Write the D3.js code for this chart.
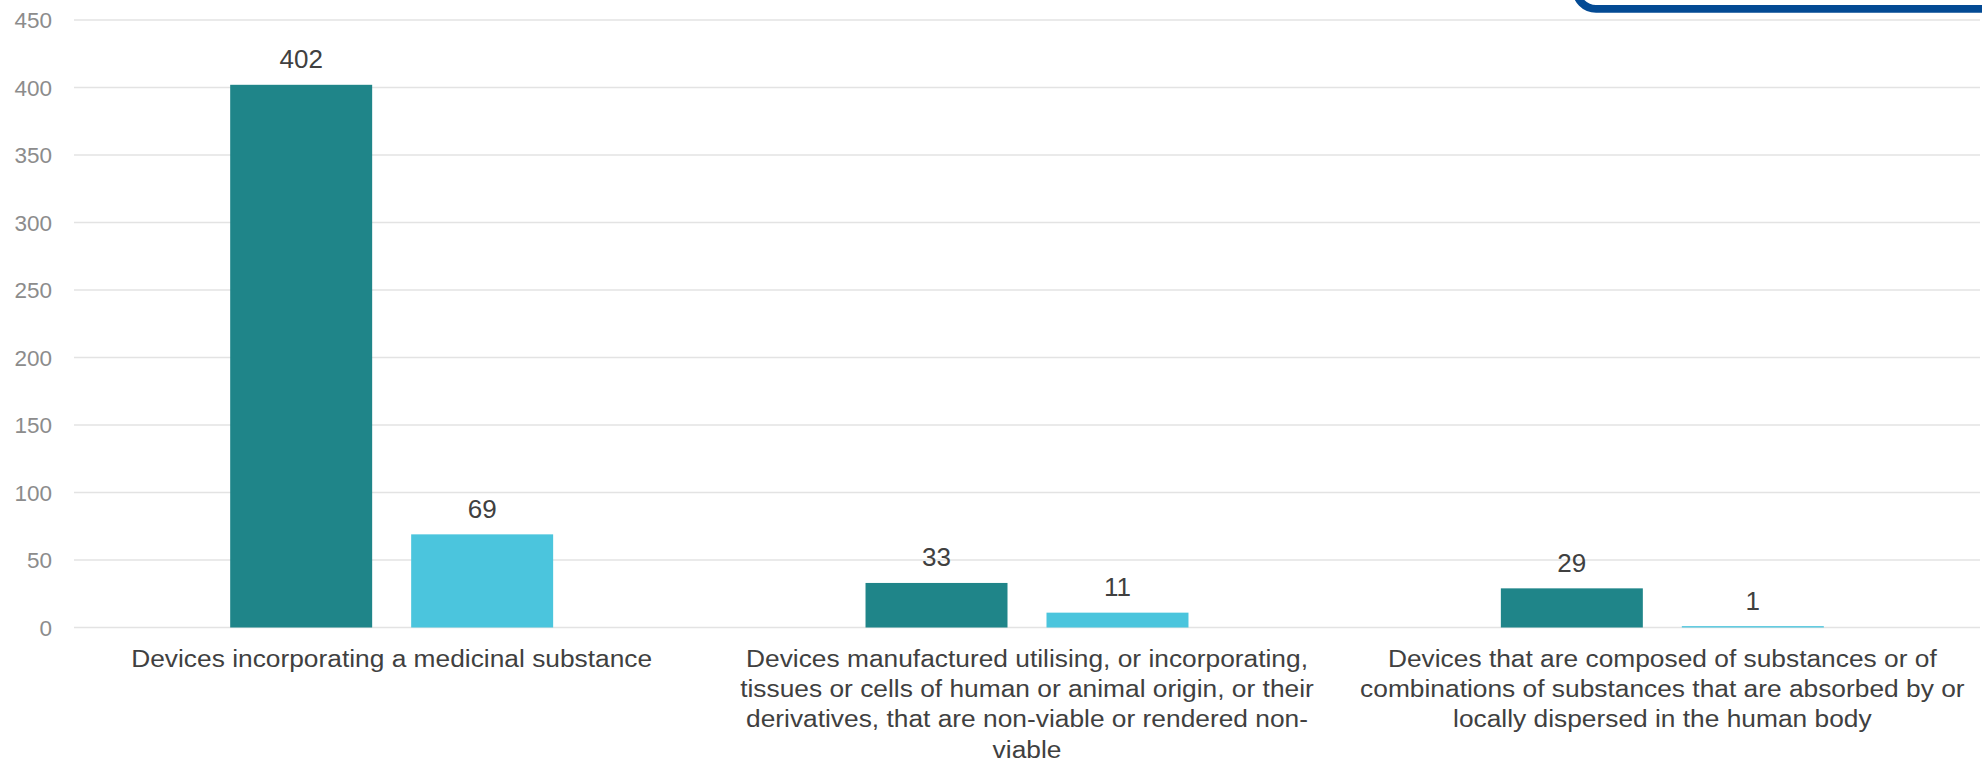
<!DOCTYPE html>
<html>
<head>
<meta charset="utf-8">
<script src="https://cdn.jsdelivr.net/npm/d3@7"></script>
<style>
  html, body { margin: 0; padding: 0; background: #ffffff; }
  svg { display: block; }
  text { font-family: "Liberation Sans", Arial, sans-serif; }
</style>
</head>
<body>
<svg id="chart" width="1982" height="762"></svg>
<script>
// ---- data ----
const categories = [
  "Devices incorporating a medicinal substance",
  "Devices manufactured utilising, or incorporating,\ntissues or cells of human or animal origin, or their\nderivatives, that are non-viable or rendered non-\nviable",
  "Devices that are composed of substances or of\ncombinations of substances that are absorbed by or\nlocally dispersed in the human body"
];
const seriesNames = ["Series A", "Series B"];
const seriesA = [402, 33, 29];
const seriesB = [69, 11, 1];
const yTicks = [0, 50, 100, 150, 200, 250, 300, 350, 400, 450];

// ---- layout ----
const W = 1982, H = 762;
const plotLeft = 74, plotRight = 1980, plotTop = 20, plotBottom = 627.5;
const colors = ["#1f8589", "#4bc5dd"];
const svg = d3.select("#chart");

const x0 = d3.scaleBand().domain(categories).range([plotLeft, plotRight]).paddingInner(0).paddingOuter(0);
const x1 = d3.scaleBand().domain(seriesNames).range([0, x0.bandwidth()]).paddingInner(0.2155).paddingOuter(0.863);
const y = d3.scaleLinear().domain([0, 450]).range([plotBottom, plotTop]);

// gridlines
svg.append("g").selectAll("line").data(yTicks).join("line")
  .attr("x1", plotLeft).attr("x2", plotRight)
  .attr("y1", d => y(d)).attr("y2", d => y(d))
  .attr("stroke", "#e3e3e3").attr("stroke-width", 1.6);

// y axis labels
const yAxis = d3.axisLeft(y).tickValues(yTicks).tickSize(0).tickPadding(0);
const yg = svg.append("g").attr("transform", `translate(${plotLeft - 22},0)`).call(yAxis);
yg.select(".domain").remove();
yg.selectAll("text")
  .attr("font-family", "Liberation Sans, Arial, sans-serif")
  .attr("font-size", 22.5).attr("fill", "#8c8c8c").attr("dy", "0.35em");

// bars
const rows = categories.map((c, i) => ({ cat: c, vals: [seriesA[i], seriesB[i]] }));
const groups = svg.append("g").selectAll("g").data(rows).join("g")
  .attr("transform", d => `translate(${x0(d.cat)},0)`);
groups.selectAll("rect").data(d => d.vals.map((v, j) => ({ s: seriesNames[j], v, j }))).join("rect")
  .attr("x", d => x1(d.s)).attr("width", x1.bandwidth())
  .attr("y", d => y(d.v)).attr("height", d => y(0) - y(d.v))
  .attr("fill", d => colors[d.j]);

// data labels
groups.selectAll("text.val").data(d => d.vals.map((v, j) => ({ s: seriesNames[j], v, j }))).join("text")
  .attr("class", "val")
  .attr("x", d => x1(d.s) + x1.bandwidth() / 2)
  .attr("y", d => y(d.v) - 16.5)
  .attr("text-anchor", "middle")
  .attr("font-size", 26).attr("fill", "#404040")
  .text(d => d.v);

// category labels
const catG = svg.append("g");
categories.forEach(c => {
  const t = catG.append("text")
    .attr("transform", `translate(${x0(c) + x0.bandwidth() / 2},666.7) scale(1.13,1)`)
    .attr("text-anchor", "middle")
    .attr("font-size", 23.3).attr("fill", "#404040");
  c.split("\n").forEach((line, i) => {
    t.append("tspan").attr("x", 0).attr("y", i * 30.3).text(line);
  });
});

// decorative rounded box at top right
svg.append("rect")
  .attr("x", 1576).attr("y", -60).attr("width", 500).attr("height", 68.8)
  .attr("rx", 20).attr("ry", 20)
  .attr("fill", "none").attr("stroke", "#034a94").attr("stroke-width", 7.8);
</script>
</body>
</html>
